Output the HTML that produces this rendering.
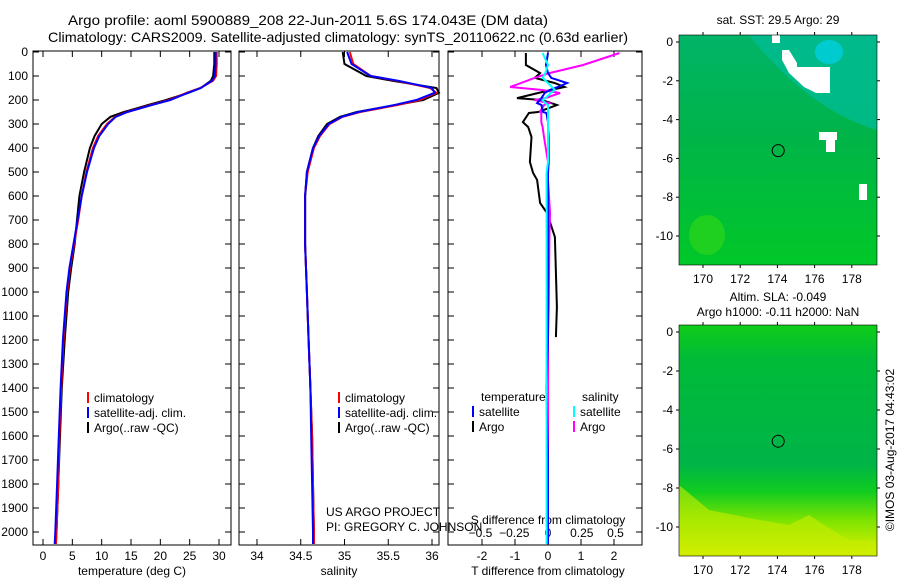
<!DOCTYPE html>
<html><head><meta charset="utf-8"><style>
body{margin:0;background:#fff;width:900px;height:580px;overflow:hidden}
svg{font-family:"Liberation Sans",sans-serif;font-size:12px}
</style></head><body>
<svg id="c" width="900" height="580">
<text x="68" y="25" font-size="14" textLength="480" lengthAdjust="spacingAndGlyphs">Argo profile: aoml 5900889_208 22-Jun-2011 5.6S 174.043E (DM data)</text>
<text x="48" y="42" font-size="14" textLength="580" lengthAdjust="spacingAndGlyphs">Climatology: CARS2009. Satellite-adjusted climatology: synTS_20110622.nc (0.63d earlier)</text>
<text x="778" y="24" text-anchor="middle">sat. SST: 29.5 Argo: 29</text>
<text x="778" y="301" text-anchor="middle">Altim. SLA: -0.049</text>
<text x="778" y="316" text-anchor="middle">Argo h1000: -0.11 h2000: NaN</text>
<text transform="translate(894,450) rotate(-90)" text-anchor="middle">©IMOS 03-Aug-2017 04:43:02</text>
<text x="326" y="516">US ARGO PROJECT</text>
<text x="326" y="531">PI: GREGORY C. JOHNSON</text>
</svg>
<script>
const depths=[0,50,100,120,150,170,200,220,250,270,300,350,400,500,600,700,800,900,1000,1200,1400,1600,1800,2000,2050];
const tempClim=[29.6,29.6,29.5,29.0,26.8,24.5,21.5,18.5,14.3,12.3,10.9,9.4,8.5,7.4,6.6,6.0,5.3,4.6,4.1,3.5,3.1,2.8,2.6,2.3,2.2];
const tempSat=[29.4,29.4,29.3,28.8,26.9,24.7,21.7,18.7,14.4,12.4,11.1,9.6,8.7,7.5,6.6,5.9,5.2,4.5,4.0,3.4,3.0,2.7,2.4,2.1,2.0];
const tempArgo=[29.2,29.2,29.0,28.6,26.9,24.8,21.0,18.0,13.8,11.5,10.0,8.8,8.0,7.0,6.2,5.8,5.4,4.8,4.3,3.7,3.2,2.9,2.6,2.3,2.2];
const salClim=[35.06,35.1,35.3,35.6,35.98,36.05,35.86,35.62,35.18,34.98,34.83,34.72,34.65,34.58,34.55,34.55,34.55,34.56,34.57,34.59,34.61,34.63,34.64,34.65,34.65];
const salSat=[35.03,35.08,35.3,35.62,36.0,36.03,35.82,35.58,35.16,34.97,34.82,34.71,34.64,34.57,34.55,34.55,34.55,34.56,34.57,34.59,34.61,34.62,34.63,34.64,34.64];
const salArgo=[34.98,35.0,35.25,35.55,36.05,36.08,35.9,35.6,35.14,34.95,34.8,34.7,34.64,34.57,34.55,34.55,34.55,34.56,34.57,34.59,34.61,34.63,34.64,34.65,34.65];
const dDepth=[4,54,88,108,129,146,158,171,192,200,213,221,250,254,292,313,354,458,504,533,629,671,771,1063,1188,1400,1700,2050];
const tDiffArgo=[-0.67,-0.67,-0.24,-0.4,0.2,0.5,0.1,-0.3,-0.94,-0.2,0.1,0.27,-0.3,-0.58,-0.76,-0.6,-0.5,-0.55,-0.45,-0.33,-0.24,-0.03,0.21,0.27,0.24,null,null,null];
const tDiffSat=[0,-0.06,0.0,0.1,0.58,0.3,0.06,-0.1,-0.2,-0.25,-0.33,-0.2,-0.15,-0.05,0,0,0.02,0.02,0,0,0,0,0,0,0,-0.05,0,0];
const sDiffArgo=[0.53,0.26,0.01,-0.1,-0.2,-0.28,-0.05,0.09,-0.02,-0.1,0.01,-0.03,-0.06,-0.05,-0.05,-0.04,-0.03,0,0,0,0.01,0.015,0.01,0.005,0,0,0,0];
const sDiffSat=[-0.04,0,-0.02,-0.04,0,0.03,0.05,0.02,-0.02,-0.04,-0.02,0,0,0,0,0,0,0,-0.01,-0.01,-0.01,-0.01,-0.01,-0.01,-0.01,-0.01,-0.01,-0.01];
const depthTicks=[0,100,200,300,400,500,600,700,800,900,1000,1100,1200,1300,1400,1500,1600,1700,1800,1900,2000];
const tempTicks=[0,5,10,15,20,25,30];
const salTicks=[34,34.5,35,35.5,36];
const tdTicks=[-2,-1,0,1,2];
const sdTicks=[-0.5,-0.25,0,0.25,0.5];
const lonTicks=[170,172,174,176,178];
const latTicks=[0,-2,-4,-6,-8,-10];
const floatLon=174.043, floatLat=-5.6;

const NS='http://www.w3.org/2000/svg';
const svg=document.getElementById('c');
function el(t,a,parent){const e=document.createElementNS(NS,t);for(const k in a)e.setAttribute(k,a[k]);(parent||svg).appendChild(e);return e;}
const yTop=52, pxPerM=0.24;
const yD=d=>yTop+d*pxPerM;
const P1={l:33,r:231,t:51,b:545}, P2={l:239,r:439,t:51,b:545}, P3={l:448,r:642,t:51,b:545};
const xT=v=>43+(v)*(219-43)/30;
const xS=v=>257+(v-34)*87.5;
const xTD=v=>548+v*33;
const xSD=v=>548+v*135;

function frame(P,name){const r=el('rect',{x:P.l,y:P.t,width:P.r-P.l,height:P.b-P.t,fill:'none',stroke:'#000','stroke-width':1});


depthTicks.forEach(d=>{const y=yD(d);el('line',{x1:P.l,x2:P.l+6,y1:y,y2:y,stroke:'#000'});el('line',{x1:P.r-6,x2:P.r,y1:y,y2:y,stroke:'#000'});});}
frame(P1,'temperature-panel');frame(P2,'salinity-panel');frame(P3,'difference-panel');
depthTicks.forEach(d=>{const t=el('text',{x:28,y:yD(d)+4,'text-anchor':'end'});t.textContent=d;

});
function xticks(P,ticks,fx,lab,yl,top){ticks.forEach(v=>{const x=fx(v);el('line',{x1:x,x2:x,y1:P.b-6,y2:P.b,stroke:'#000'});if(top)el('line',{x1:x,x2:x,y1:P.t,y2:P.t+6,stroke:'#000'});const t=el('text',{x:x,y:yl,'text-anchor':'middle'});t.textContent=lab(v);

});}
xticks(P1,tempTicks,xT,v=>v,560,true);
xticks(P2,salTicks,xS,v=>v,560,true);
xticks(P3,tdTicks,xTD,v=>v,560,true);
sdTicks.forEach(v=>{const t=el('text',{x:xSD(v),y:537,'text-anchor':'middle'});t.textContent=v===0?'0':String(v).replace('-','\u2212');

});
[['temperature (deg C)',132,575,'temperature-axis-title'],['salinity',339,575,'salinity-axis-title'],['T difference from climatology',548,575,'t-diff-axis-title'],['S difference from climatology',548,524,'s-diff-axis-title']].forEach(a=>{const t=el('text',{x:a[1],y:a[2],'text-anchor':'middle'});t.textContent=a[0];

});

function line(xs,ds,fx,col,name,w){let p='';let started=false;xs.forEach((v,i)=>{if(v===null){started=false;return;}p+=(started?'L':'M')+fx(v).toFixed(1)+','+yD(ds[i]).toFixed(1);started=true;});
const e=el('path',{d:p,fill:'none',stroke:col,'stroke-width':w||2});

}
line(tempArgo,depths,xT,'#000','temp-argo-line');
line(tempClim,depths,xT,'#f00','temp-climatology-line');
line(tempSat,depths,xT,'#00f','temp-satellite-line');
line(salArgo,depths,xS,'#000','sal-argo-line');
line(salClim,depths,xS,'#f00','sal-climatology-line');
line(salSat,depths,xS,'#00f','sal-satellite-line');
line(tDiffArgo,dDepth,xTD,'#000','tdiff-argo-line');
line(sDiffArgo,dDepth,xSD,'#f0f','sdiff-argo-line');
line(tDiffSat,dDepth,xTD,'#00f','tdiff-satellite-line');
line(sDiffSat,dDepth,xSD,'#0ff','sdiff-satellite-line');

function legend(x,y,items){items.forEach((it,i)=>{el('rect',{x:x,y:y+i*15-10,width:2,height:11,fill:it[1]});const t=el('text',{x:x+7,y:y+i*15});t.textContent=it[0];

});}
const leg=[['climatology','#f00'],['satellite-adj. clim.','#00f'],['Argo(..raw -QC)','#000']];
legend(87,402,leg);legend(338,402,leg);
let t=el('text',{x:481,y:401});t.textContent='temperature';


t=el('text',{x:582,y:401});t.textContent='salinity';


legend(472,416,[['satellite','#00f'],['Argo','#000']]);
legend(573,416,[['satellite','#0ff'],['Argo','#f0f']]);

// maps
const xL=v=>703+(v-170)*18.6;
function map(M,kind){
  const g=el('g',{});
  
  
  const yL=v=>M.y0+(-v)*M.s;
  const id='g'+kind;
  const defs=el('defs',{},g);
  const X=v=>M.l+v, Y=v=>M.t+v;
  if(kind==='sst'){
    const lg=el('linearGradient',{id:id,x1:0,y1:0,x2:0,y2:1},defs);
    el('stop',{offset:0,'stop-color':'#00b468'},lg);el('stop',{offset:0.45,'stop-color':'#00b448'},lg);el('stop',{offset:1,'stop-color':'#00c828'},lg);
    el('rect',{x:M.l,y:M.t,width:M.r-M.l,height:M.b-M.t,fill:'url(#'+id+')'},g);
    el('path',{d:`M${X(70)},${Y(0)} L${M.r},${Y(0)} L${M.r},${Y(95)} Q${X(130)},${Y(75)} ${X(70)},${Y(0)}Z`,fill:'#00bc98',opacity:0.75},g);
    el('ellipse',{cx:X(150),cy:Y(17),rx:14,ry:12,fill:'#00ccd0'},g);
    el('ellipse',{cx:X(28),cy:Y(200),rx:18,ry:20,fill:'#20d020'},g);
    el('path',{d:`M${X(93)},${Y(0)} h8 v8 h-8 Z M${X(103)},${Y(15)} h7 l8,13 v4 h33 v26 h-14 l-12,-6 l-15,-14 l-7,-13 Z`,fill:'#fff'},g);
    el('rect',{x:X(140),y:Y(97),width:18,height:8,fill:'#fff'},g);el('rect',{x:X(147),y:Y(103),width:9,height:14,fill:'#fff'},g);
    el('rect',{x:X(180),y:Y(149),width:8,height:16,fill:'#fff'},g);
  } else {
    const lg=el('linearGradient',{id:id,x1:0,y1:0,x2:0,y2:1},defs);
    el('stop',{offset:0,'stop-color':'#10cc18'},lg);el('stop',{offset:0.15,'stop-color':'#00bb38'},lg);el('stop',{offset:0.6,'stop-color':'#00b448'},lg);el('stop',{offset:0.72,'stop-color':'#10cc20'},lg);el('stop',{offset:0.85,'stop-color':'#80e400'},lg);el('stop',{offset:1,'stop-color':'#e0f000'},lg);
    el('rect',{x:M.l,y:M.t,width:M.r-M.l,height:M.b-M.t,fill:'url(#'+id+')'},g);
    el('path',{d:`M${X(0)},${Y(160)} L${X(30)},${Y(185)} L${X(80)},${Y(195)} L${X(110)},${Y(200)} L${X(130)},${Y(190)} L${X(145)},${Y(200)} L${X(170)},${Y(215)} L${X(198)},${Y(216)} L${X(198)},${Y(231)} L${X(0)},${Y(231)}Z`,fill:'#c8ec00',opacity:0.6},g);
  }
  el('rect',{x:M.l,y:M.t,width:M.r-M.l,height:M.b-M.t,fill:'none',stroke:'#000','stroke-width':0.6},g);
  lonTicks.forEach(v=>{const x=xL(v);el('line',{x1:x,x2:x,y1:M.t-3,y2:M.t,stroke:'#000'},g);el('line',{x1:x,x2:x,y1:M.b,y2:M.b+3,stroke:'#000'},g);
    const tt=el('text',{x:x,y:M.b+18,'text-anchor':'middle'},g);tt.textContent=v;
    
    });
  latTicks.forEach(v=>{const y=yL(v);el('line',{x1:M.l-3,x2:M.l,y1:y,y2:y,stroke:'#000'},g);el('line',{x1:M.r,x2:M.r+3,y1:y,y2:y,stroke:'#000'},g);
    const tt=el('text',{x:M.l-6,y:y+4,'text-anchor':'end'},g);tt.textContent=v===0?'0':String(v);
    
    });
  const c=el('circle',{cx:xL(floatLon),cy:yL(floatLat),r:6,fill:'none',stroke:'#000','stroke-width':1},g);
  
  
}
map({l:679,r:877,t:35,b:265,y0:42,s:19.4},'sst');
map({l:679,r:877,t:325,b:556,y0:332,s:19.5},'sla');
</script>
</body></html>
